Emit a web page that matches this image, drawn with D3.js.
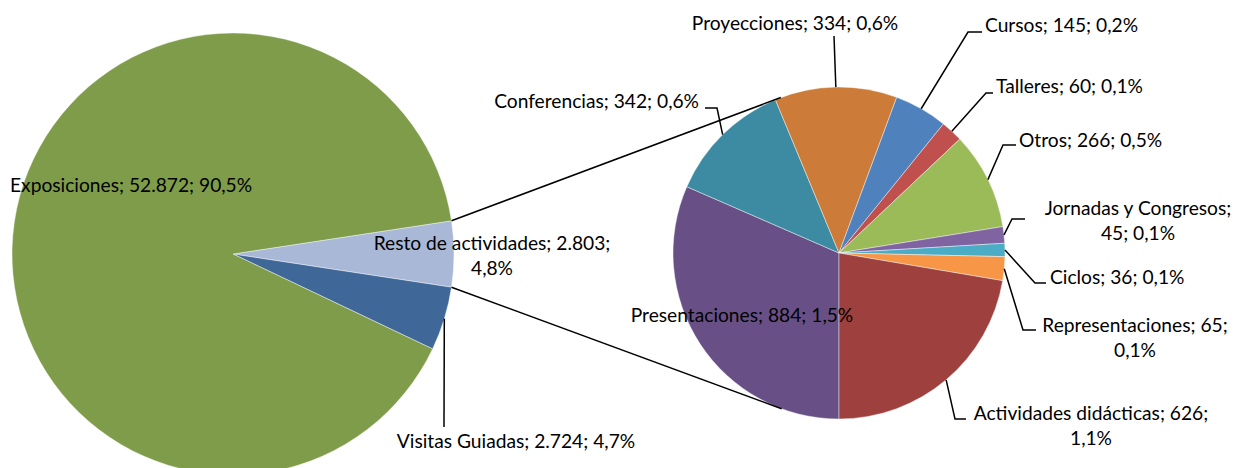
<!DOCTYPE html>
<html>
<head>
<meta charset="utf-8">
<script src="https://cdn.jsdelivr.net/npm/d3@7"></script>
<style>
  body { margin: 0; background: #fff; }
  text { font-family: Lato, "Noto Sans", sans-serif; font-size: 19.2px; fill: #000; }
</style>
</head>
<body>
<div id="chart"></div>
<script>
(function(){

// main pie
var mainNames  = ["Resto de actividades", "Visitas Guiadas", "Exposiciones"];
var mainValues = [2803, 2724, 52872];
var mainColors = ["#A9B8D7", "#3F6898", "#7F9C4A"];

// secondary pie (break-down of "Resto de actividades")
var subNames  = ["Presentaciones", "Conferencias", "Proyecciones", "Cursos", "Talleres",
                 "Otros", "Jornadas y Congresos", "Ciclos", "Representaciones", "Actividades didácticas"];
var subValues = [884, 342, 334, 145, 60, 266, 45, 36, 65, 626];
var subColors = ["#685086", "#3C8BA2", "#CC7B38", "#4F81BD", "#C0504D",
                 "#9BBB59", "#8064A2", "#4BACC6", "#F79646", "#9D403E"];

var width = 1245, height = 468;

var es = d3.formatLocale({decimal: ",", thousands: ".", grouping: [3], currency: ["", "€"]});
var fmtInt = es.format(",d"), fmtPct = es.format(".1%");

var total = d3.sum(mainValues);

var svg = d3.select("#chart").append("svg")
    .attr("width", width)
    .attr("height", height);

// label placement (layout only): baseline x/y, anchor, parts on first line, leader bends
var labelLayout = {
  "Exposiciones":           {x: 10,   y: 192, anchor: "start"},
  "Resto de actividades":   {x: 492,  y: 250, anchor: "middle", brk: 2},
  "Visitas Guiadas":        {x: 516,  y: 448, anchor: "middle", leader: [[444, 427]]},
  "Presentaciones":         {x: 742,  y: 322, anchor: "middle"},
  "Actividades didácticas": {x: 1091, y: 420, anchor: "middle", brk: 2, leader: [[955, 419], [966, 419]]},
  "Representaciones":       {x: 1135, y: 332, anchor: "middle", brk: 2, leader: [[1023, 330], [1036, 330]]},
  "Ciclos":                 {x: 1050, y: 284, anchor: "start", leader: [[1035, 283], [1046, 283]]},
  "Jornadas y Congresos":   {x: 1138, y: 215, anchor: "middle", brk: 1, leader: [[1012, 219], [1025, 219]]},
  "Otros":                  {x: 1019, y: 147, anchor: "start", leader: [[1003, 145], [1016, 145]]},
  "Talleres":               {x: 996,  y: 93,  anchor: "start", leader: [[986, 93], [993, 93]]},
  "Cursos":                 {x: 985,  y: 32,  anchor: "start", leader: [[968, 32], [982, 32]]},
  "Proyecciones":           {x: 795,  y: 30,  anchor: "middle", leader: [[834, 36]]},
  "Conferencias":           {x: 699,  y: 108, anchor: "end", leader: [[717, 108], [705, 108]]}
};

var main = {cx: 233, cy: 254, r: 221};
var sub  = {cx: 839, cy: 253, r: 166};

// "Resto" slice centred on the right-hand side
var restoHalf = Math.PI * mainValues[0] / total;
var mainPie = d3.pie().sort(null).value(function(d) { return d.value; })
    .startAngle(Math.PI / 2 - restoHalf).endAngle(Math.PI / 2 - restoHalf + 2 * Math.PI);
var subPie = d3.pie().sort(null).value(function(d) { return d.value; })
    .startAngle(Math.PI).endAngle(3 * Math.PI);

var mainData = mainNames.map(function(n, i) { return {name: n, value: mainValues[i], color: mainColors[i]}; });
var subData  = subNames.map(function(n, i) { return {name: n, value: subValues[i], color: subColors[i]}; });

function polar(c, r, a) { return [c.cx + r * Math.sin(a), c.cy - r * Math.cos(a)]; }

function drawPie(arcs, c) {
  var arc = d3.arc().innerRadius(0).outerRadius(c.r);
  var g = svg.append("g").attr("transform", "translate(" + c.cx + "," + c.cy + ")");
  g.selectAll("path").data(arcs).enter().append("path")
      .attr("d", arc)
      .attr("fill", function(d) { return d.data.color; })
      .attr("stroke", "#fff")
      .attr("stroke-opacity", 0.6)
      .attr("stroke-width", 0.7);
}

var mainArcs = mainPie(mainData), subArcs = subPie(subData);
drawPie(mainArcs, main);
drawPie(subArcs, sub);

// connector lines: from Resto edges, tangent to the secondary pie
var resto = mainArcs[0];
[[resto.startAngle, 1], [resto.endAngle, -1]].forEach(function(e) {
  var p = polar(main, main.r, e[0]);
  var dx = p[0] - sub.cx, dy = p[1] - sub.cy;
  var d = Math.sqrt(dx * dx + dy * dy);
  var phi = Math.atan2(dy, dx), alpha = Math.acos(sub.r / d);
  var t = phi + e[1] * alpha;
  svg.append("line")
      .attr("x1", p[0]).attr("y1", p[1])
      .attr("x2", sub.cx + sub.r * Math.cos(t)).attr("y2", sub.cy + sub.r * Math.sin(t))
      .attr("stroke", "#000").attr("stroke-width", 1.5);
});

// labels and leaders
function labels(arcs, c) {
  arcs.forEach(function(a) {
    var L = labelLayout[a.data.name];
    var parts = [a.data.name, fmtInt(a.data.value), fmtPct(a.data.value / total)];
    var lines = L.brk ? [parts.slice(0, L.brk).join("; ") + ";", parts.slice(L.brk).join("; ")]
                      : [parts.join("; ")];
    if (L.leader) {
      var mid = (a.startAngle + a.endAngle) / 2;
      var pts = [polar(c, c.r, mid)].concat(L.leader);
      svg.append("path")
          .attr("d", d3.line()(pts))
          .attr("fill", "none")
          .attr("stroke", "#000")
          .attr("stroke-width", 1.5);
    }
    var t = svg.append("text")
        .attr("x", L.x).attr("y", L.y)
        .attr("text-anchor", L.anchor);
    lines.forEach(function(s, i) {
      t.append("tspan").attr("x", L.x).attr("dy", i ? 25 : 0).text(s);
    });
  });
}
labels(mainArcs, main);
labels(subArcs, sub);

})();
</script>
</body>
</html>
